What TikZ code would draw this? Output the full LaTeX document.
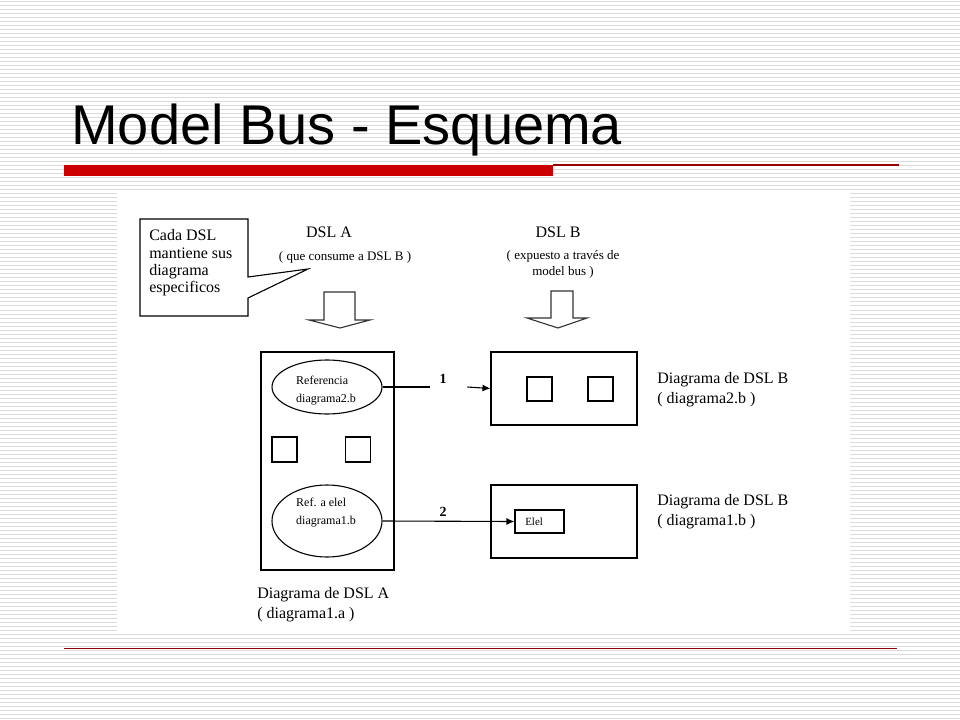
\documentclass[tikz,border=0pt]{standalone}
\usepackage{fontspec}
\setmainfont{Liberation Serif}
\newfontfamily\titlefont{Liberation Sans}
\usetikzlibrary{shapes.geometric,arrows.meta}
\newdimen\pu
\pu=0.75pt
\tikzset{
  stripe/.style={draw=gray!28,line width=1\pu},
  box/.style={draw=black,line width=1.1\pu,rectangle,inner sep=0,minimum width=#1},
  sq/.style={draw=black,line width=1.1\pu,rectangle,inner sep=0,minimum width=25\pu,minimum height=25\pu},
  ell/.style={draw=black,line width=1.1\pu,ellipse,inner sep=0},
  txt/.style={inner sep=0,font=\fontsize{12}{15}\selectfont,align=left},
  smalltxt/.style={inner sep=0,font=\fontsize{9.75}{12}\selectfont,align=center},
  tinytxt/.style={inner sep=0,font=\fontsize{9}{13.5}\selectfont,align=left},
  numtxt/.style={inner sep=0,font=\fontsize{10.5}{12}\selectfont\bfseries},
  conn/.style={draw=black,line width=1.1\pu},
  arr/.style={conn,-{Latex[length=6pt,width=5.25pt]}},
  blockarrow/.style={draw=black!80,line width=1.1\pu,fill=white,line join=miter},
}
\begin{document}
\begin{tikzpicture}[x=0.75pt,y=-0.75pt]
\useasboundingbox (0,0) rectangle (960,720);
\fill[white] (0,0) rectangle (960,720);
% striped background
\foreach \i in {0,...,179} {\draw[stripe] (0,\i*4+2) -- (960,\i*4+2);}
% title
\node[inner sep=0,anchor=base west,font=\titlefont\fontsize{42}{50}\selectfont] (title) at (71,145) {Model Bus - Esquema};
% red rules
\fill[red!80!black] (64,165) rectangle (553,176);
\draw[red!60!black,line width=1.2\pu] (553,165) -- (899,165);
\draw[red!55!black,line width=1.6\pu] (64,648.5) -- (897,648.5);
% white image area
\fill[white] (117,193) rectangle (850,631);
% callout
\draw[conn,line join=miter] (140,219) -- (248,219) -- (248,277) -- (308,269) -- (248,298) -- (248,316) -- (140,316) -- cycle;
\node[txt,anchor=west,font=\fontsize{12}{13}\selectfont] (calltext) at (149,263) {Cada DSL\\mantiene sus\\diagrama\\especificos};
% DSL A / DSL B headings
\node[txt] (dslA) at (329,232) {DSL A};
\node[smalltxt] (dslAsub) at (345,257) {( que consume a DSL B )};
\node[txt] (dslB) at (558,232) {DSL B};
\node[smalltxt] (dslBsub) at (563,264) {( expuesto a través de\\model bus )};
% block arrows
\draw[blockarrow] (324,292) -- (355,292) -- (355,320) -- (370,320) -- (340,328) -- (309,320) -- (324,320) -- cycle;
\draw[blockarrow] (551,291) -- (573,291) -- (573,318) -- (587,318) -- (558,328) -- (527,318) -- (551,318) -- cycle;
% DSL A diagram
\node[box=133\pu,minimum height=218\pu] (boxA) at (327.5,461) {};
\node[ell,minimum width=110\pu,minimum height=54\pu] (e1) at (327,387) {};
\node[tinytxt] (e1t) at (326,391) {Referencia\\diagrama2.b};
\node[sq] (sqA1) at (284.5,449.5) {};
\node[sq] (sqA2) at (358,449.5) {};
\node[ell,minimum width=110\pu,minimum height=72\pu] (e2) at (327,521) {};
\node[tinytxt] (e2t) at (326,512.5) {Ref. a elel\\diagrama1.b};
\node[txt,anchor=west] (labA) at (257,605) {Diagrama de DSL A\\( diagrama1.a )};
% DSL B diagrams
\node[box=146\pu,minimum height=73\pu] (boxB1) at (564,388.5) {};
\node[sq,minimum height=24\pu] (sqB1) at (539.5,389) {};
\node[sq,minimum height=24\pu] (sqB2) at (600.5,389) {};
\node[box=146\pu,minimum height=73\pu] (boxB2) at (564,521.5) {};
\node[box=49\pu,minimum height=23\pu] (elel) at (539.5,521.5) {};
\node[inner sep=0,anchor=west,font=\fontsize{8.25}{10}\selectfont] (elelt) at (525,522) {Elel};
\node[txt,anchor=west] (labB1) at (657,390) {Diagrama de DSL B\\( diagrama2.b )};
\node[txt,anchor=west] (labB2) at (657,512) {Diagrama de DSL B\\( diagrama1.b )};
% connectors
\node[inner sep=0,minimum width=37\pu,minimum height=1\pu] (gap1) at (448.5,387) {};
\node[numtxt] (n1) at (443,379) {1};
\draw[conn] (e1.east) -- (gap1.west);
\draw[arr] (gap1.east) -- (boxB1.west);
\draw[arr] (e2.east) -- (elel.west);
\node[numtxt] (n2) at (443,512) {2};
\end{tikzpicture}
\end{document}
